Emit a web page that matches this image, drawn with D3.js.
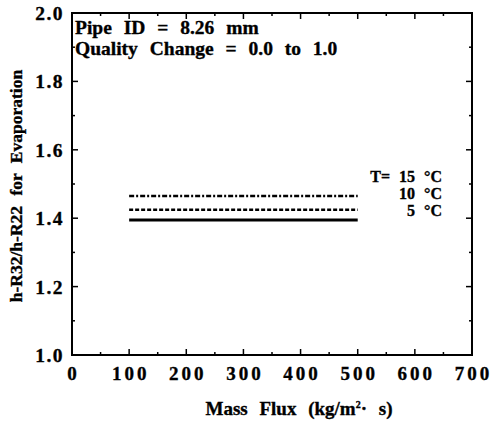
<!DOCTYPE html>
<html>
<head>
<meta charset="utf-8">
<script src="https://cdn.jsdelivr.net/npm/d3@7"></script>
<style>
  html, body { margin: 0; padding: 0; background: #fff; }
  svg text { font-family: "Liberation Serif", "Times New Roman", serif; font-weight: bold; fill: #000; stroke: #000; stroke-width: 0.35px; }
</style>
</head>
<body>
<svg id="chart" width="492" height="422"></svg>
<script>
// Heat transfer coefficient ratio, R32 vs R22, evaporation
const massFlux = [100, 500];
const series = [
  { label: "T= 15 °C", temp: 15, values: [1.465, 1.465], dash: "5,2,2,2" },
  { label: "10 °C", temp: 10, values: [1.425, 1.425], dash: "4,2" },
  { label: "5 °C", temp: 5, values: [1.395, 1.395], dash: null }
];
const xTicks = [0, 100, 200, 300, 400, 500, 600, 700];
const yTicks = [1.0, 1.2, 1.4, 1.6, 1.8, 2.0];
const notes = ["Pipe ID = 8.26 mm", "Quality Change = 0.0 to 1.0"];

const svg = d3.select("#chart");
const m = { left: 72, right: 472, top: 13, bottom: 355 };
const x = d3.scaleLinear().domain([0, 700]).range([m.left, m.right]);
const y = d3.scaleLinear().domain([1.0, 2.0]).range([m.bottom, m.top]);

// frame
svg.append("rect")
  .attr("x", m.left).attr("y", m.top)
  .attr("width", m.right - m.left).attr("height", m.bottom - m.top)
  .attr("fill", "none").attr("stroke", "#000").attr("stroke-width", 2);

// inward ticks on all four sides
const g = svg.append("g").attr("stroke", "#000").attr("stroke-width", 1.5);
d3.range(0, 701, 50).forEach(v => {
  const len = v % 100 === 0 ? 6 : 3;
  g.append("line").attr("x1", x(v)).attr("x2", x(v)).attr("y1", m.bottom).attr("y2", m.bottom - len);
  g.append("line").attr("x1", x(v)).attr("x2", x(v)).attr("y1", m.top).attr("y2", m.top + len);
});
d3.range(0, 11).map(i => 1 + i / 10).forEach((v, i) => {
  const len = i % 2 === 0 ? 6 : 3;
  g.append("line").attr("y1", y(v)).attr("y2", y(v)).attr("x1", m.left).attr("x2", m.left + len);
  g.append("line").attr("y1", y(v)).attr("y2", y(v)).attr("x1", m.right).attr("x2", m.right - len);
});

// tick labels
svg.append("g").selectAll("text").data(xTicks).join("text")
  .attr("x", d => x(d) + 1.5).attr("y", 380)
  .attr("text-anchor", "middle")
  .style("font-size", "19px").style("letter-spacing", "3px")
  .text(d => d);
svg.append("g").selectAll("text").data(yTicks).join("text")
  .attr("x", 64).attr("y", d => y(d) + 7)
  .attr("text-anchor", "end")
  .style("font-size", "19.5px").style("letter-spacing", "1.5px")
  .text(d => d.toFixed(1));

// axis titles
svg.append("text")
  .attr("x", 299).attr("y", 415)
  .attr("text-anchor", "middle")
  .style("font-size", "19px").style("word-spacing", "7px")
  .html('Mass Flux (kg/m<tspan dy="-7" style="font-size:10px">2</tspan><tspan dy="7">· s)</tspan>');
svg.append("text")
  .attr("transform", "translate(22," + ((m.top + m.bottom) / 2 + 2) + ") rotate(-90)")
  .attr("text-anchor", "middle")
  .style("font-size", "17.5px").style("word-spacing", "6px")
  .text("h-R32/h-R22 for Evaporation");

// notes
svg.append("g").selectAll("text").data(notes).join("text")
  .attr("x", 75).attr("y", (d, i) => 34 + i * 21)
  .style("font-size", "19.5px").style("word-spacing", "7px")
  .text(d => d);

// series lines
const line = d3.line().x((d, i) => x(massFlux[i])).y(d => y(d));
svg.append("g").selectAll("path").data(series).join("path")
  .attr("d", d => line(d.values))
  .attr("fill", "none").attr("stroke", "#000").attr("stroke-width", d => d.dash ? 2.5 : 3)
  .attr("stroke-dasharray", d => d.dash);

// series labels
svg.append("g").selectAll("text").data(series).join("text")
  .attr("x", 442).attr("y", (d, i) => 182 + i * 17)
  .attr("text-anchor", "end")
  .style("font-size", "16px").style("word-spacing", "5px")
  .text(d => d.label);
</script>
</body>
</html>
